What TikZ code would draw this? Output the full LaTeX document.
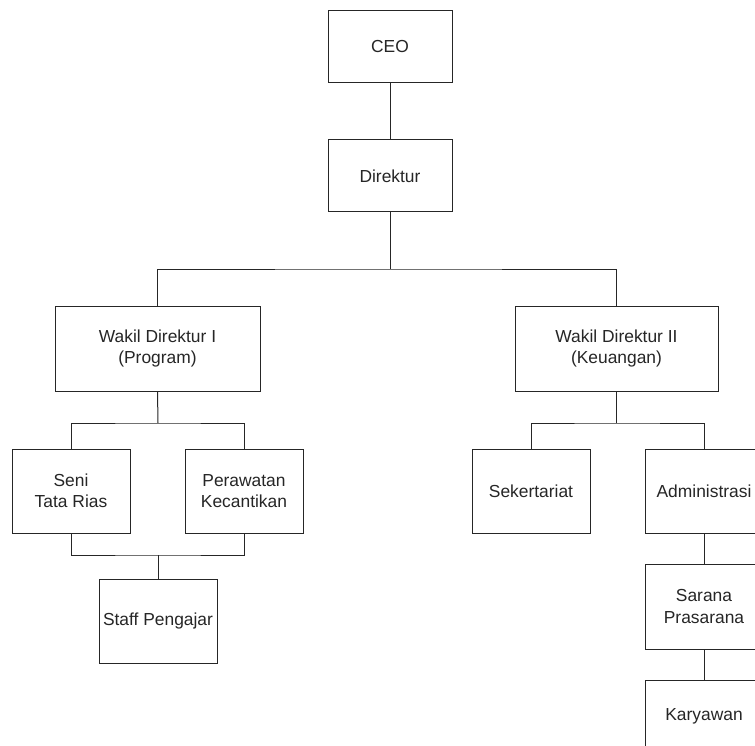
\documentclass[tikz,border=0pt]{standalone}
\usepackage{fontspec}
\setmainfont{Liberation Sans}
\begin{document}
\begin{tikzpicture}[x=1pt,y=-1pt,
  box/.style={draw=black!85, line width=1pt, inner sep=0pt, align=center,
    font=\fontsize{17.4}{21.5}\selectfont, text=black!85},
  conn/.style={draw=black!85, line width=1pt}]
\clip (0,0) rectangle (755,746);
\fill[white] (0,0) rectangle (755,746);
% top
\node[box, minimum width=124pt, minimum height=72pt] (ceo) at (390,47) {CEO};
\node[box, minimum width=124pt, minimum height=72pt] (dir) at (390,176) {Direktur};
% level 2
\node[box, minimum width=205pt, minimum height=85pt] (wk1) at (157.5,348.5) {Wakil Direktur I\\(Program)};
\node[box, minimum width=203pt, minimum height=85pt] (wk2) at (616.5,348.5) {Wakil Direktur II\\(Keuangan)};
% left branch
\node[box, minimum width=118pt, minimum height=84pt] (seni) at (71,491) {Seni\\Tata Rias};
\node[box, minimum width=118pt, minimum height=84pt] (pera) at (244,491) {Perawatan\\Kecantikan};
\node[box, minimum width=118pt, minimum height=84pt] (staff) at (158,621) {Staff Pengajar};
% right branch
\node[box, minimum width=118pt, minimum height=84pt] (sek) at (531,491) {Sekertariat};
\node[box, minimum width=118pt, minimum height=84pt] (adm) at (704,491) {Administrasi};
\node[box, minimum width=118pt, minimum height=85pt] (sar) at (704,606.5) {Sarana\\Prasarana};
\node[box, minimum width=118pt, minimum height=72pt] (kar) at (704,716) {Karyawan};
% junctions
\coordinate (j1) at (390,269);
\coordinate (j2) at (158,423);
\coordinate (j3) at (158,555);
\coordinate (j4) at (616.5,423);
% connectors
\draw[conn] (ceo) -- (dir);
\draw[conn] (dir.south) -- (j1);
\draw[conn] (wk1.north) |- (j1) -| (wk2.north);
\draw[conn] (wk1.south) -- (j2);
\draw[conn] (seni.north) |- (j2) -| (pera.north);
\draw[conn] (seni.south) |- (j3) -| (pera.south);
\draw[conn] (j3) -- (staff.north);
\draw[conn] (wk2.south) -- (j4);
\draw[conn] (sek.north) |- (j4) -| (adm.north);
\draw[conn] (adm) -- (sar);
\draw[conn] (sar) -- (kar);
\end{tikzpicture}
\end{document}
